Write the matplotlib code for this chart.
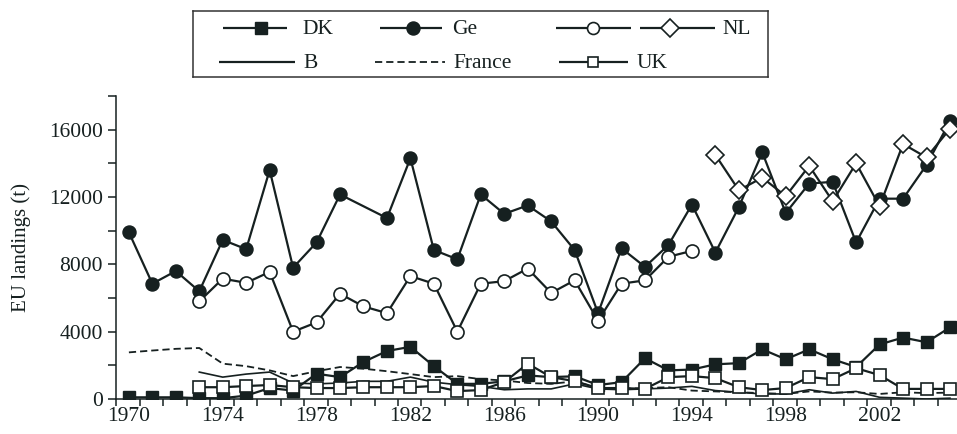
import matplotlib
matplotlib.use("Agg")
import matplotlib.pyplot as plt
import numpy as np

# ---------------- data ----------------
ge_years = [1970, 1971, 1972, 1973, 1974, 1975, 1976, 1977, 1978, 1979, 1981, 1982, 1983, 1984,
            1985, 1986, 1987, 1988, 1989, 1990, 1991, 1992, 1993, 1994, 1995, 1996, 1997, 1998,
            1999, 2000, 2001, 2002, 2003, 2004, 2005]
ge_vals = [9900, 6850, 7600, 6400, 9450, 8900, 13600, 7800, 9300, 12150, 10750, 14300, 8850, 8300,
           12150, 11000, 11500, 10550, 8850, 5100, 8950, 7850, 9150, 11550, 8700, 11400, 14650, 11050,
           12800, 12900, 9300, 11900, 11900, 13900, 16500]

oc_years = list(range(1973, 1995))
oc_vals = [5800, 7150, 6900, 7550, 4000, 4550, 6250, 5500, 5100, 7300, 6850, 4000, 6850, 7000,
           7750, 6300, 7050, 4650, 6850, 7050, 8450, 8800]

nl_years = list(range(1995, 2006))
nl_vals = [14500, 12400, 13150, 12050, 13850, 11750, 14000, 11450, 15150, 14350, 16050]

dk_years = list(range(1970, 2006))
dk_vals = [100, 100, 100, 50, 50, 200, 650, 500, 1500, 1300, 2200, 2850, 3100, 1950, 900, 900,
           1050, 1400, 1300, 1350, 830, 1000, 2420, 1700, 1750, 2060, 2130, 2950, 2360, 2950,
           2360, 1900, 3240, 3650, 3370, 4250]

uk_years = list(range(1973, 2006))
uk_vals = [700, 700, 770, 830, 700, 650, 650, 700, 700, 700, 770, 470, 530, 1000, 2100, 1300,
           1060, 650, 650, 600, 1300, 1360, 1240, 700, 530, 650, 1300, 1180, 1830, 1420, 600,
           600, 600]

fr_years = list(range(1970, 2006))
fr_vals = [2770, 2880, 2980, 3030, 2100, 1950, 1700, 1360, 1650, 1900, 1800, 1650, 1480, 1300,
           1360, 1180, 1100, 950, 900, 1050, 650, 600, 650, 700, 500, 450, 400, 350, 300, 450,
           380, 400, 300, 400, 350, 380]

b_years = list(range(1973, 2006))
b_vals = [1600, 1300, 1480, 1600, 950, 900, 950, 1050, 1050, 1300, 1000, 850, 750, 550, 600,
          600, 900, 600, 550, 600, 650, 750, 500, 400, 300, 300, 550, 350, 450, 100, 50, 0, 50]

y_major = [0, 4000, 8000, 12000, 16000]
y_minor = [2000, 6000, 10000, 14000, 18000]
x_label_years = [1970, 1974, 1978, 1982, 1986, 1990, 1994, 1998, 2002]

# ---------------- style ----------------
ink = "#162020"
serif = ["Liberation Serif", "DejaVu Serif"]
plt.rcParams["font.family"] = serif

W, H = 957, 434
fig = plt.figure(figsize=(W / 100, H / 100), dpi=100)
ax = fig.add_axes([116 / W, 35 / H, (W - 116) / W, 303 / H])

lw = 1.6
ms_c = 9.4
ms_s = 9.0
ms_d = 9.3
mew = 1.2
tfs = 15.5

ax.plot(b_years, b_vals, color=ink, lw=1.2, zorder=2)
ax.plot(fr_years, fr_vals, color=ink, lw=1.3, ls=(0, (4, 2.2)), zorder=2)
ax.plot(dk_years, dk_vals, color=ink, lw=lw, marker="s", ms=ms_s, mfc=ink, mec=ink, zorder=3)
ax.plot(uk_years, uk_vals, color=ink, lw=lw, marker="s", ms=ms_s, mfc="white", mec=ink, mew=mew, zorder=4)
ax.plot(ge_years, ge_vals, color=ink, lw=lw, marker="o", ms=ms_c, mfc=ink, mec=ink, zorder=5)
ax.plot(oc_years, oc_vals, color=ink, lw=lw, marker="o", ms=ms_c, mfc="white", mec=ink, mew=mew, zorder=6)
ax.plot(nl_years, nl_vals, color=ink, lw=lw, marker="D", ms=ms_d, mfc="white", mec=ink, mew=mew, zorder=7)

ax.set_xlim(1969.45, 2005.3)
ax.set_ylim(0, 18000)

for s in ["top", "right"]:
    ax.spines[s].set_visible(False)
for s in ["left", "bottom"]:
    ax.spines[s].set_color(ink)
    ax.spines[s].set_linewidth(1.1)

ax.set_yticks(y_major)
ax.set_yticklabels([str(v) for v in y_major])
ax.set_yticks(y_minor, minor=True)
ax.tick_params(axis="y", which="both", direction="out", length=5.5, width=1.1, color=ink,
               labelsize=tfs, pad=4, labelcolor=ink)

ax.set_xticks(x_label_years)
ax.set_xticklabels([str(v) for v in x_label_years])
ax.set_xticks([y + 0.47 for y in range(1969, 2005)], minor=True)
ax.tick_params(axis="x", which="major", length=0, pad=6, labelsize=tfs, labelcolor=ink)
ax.tick_params(axis="x", which="minor", direction="out", length=5, width=1.1, color=ink)

ax.set_ylabel("EU landings (t)", fontsize=15, color=ink, labelpad=13)

# ---------------- legend (drawn in its own pixel-unit axes) ----------------
lx0, lx1, ly0, ly1 = 193, 768, 11, 77
lax = fig.add_axes([lx0 / W, (H - ly1) / H, (lx1 - lx0) / W, (ly1 - ly0) / H])
lax.set_xlim(lx0, lx1)
lax.set_ylim(ly1, ly0)
lax.set_xticks([])
lax.set_yticks([])
for s in lax.spines.values():
    s.set_color("#333333")
    s.set_linewidth(1.1)

r1, r2 = 28, 62
fs = 15.5

def handle(x0, x1, y, xm=None, **kw):
    ls = kw.pop("ls", "-")
    lax.plot([x0, x1], [y, y], color=ink, lw=lw if ls == "-" else 1.3,
             ls=ls, solid_capstyle="butt")
    if xm is not None:
        lax.plot([xm], [y], color=ink, **kw)

handle(223, 287, r1, 261, marker="s", ms=ms_s, mfc=ink, mec=ink)
lax.text(302, r1 + 1, "DK", fontsize=fs, va="center", ha="left", color=ink)
handle(380, 442, r1, 413, marker="o", ms=ms_c, mfc=ink, mec=ink)
lax.text(452, r1 + 1, "Ge", fontsize=fs, va="center", ha="left", color=ink)
handle(556, 631, r1, 593, marker="o", ms=ms_c - 0.8, mfc="white", mec=ink, mew=mew)
handle(640, 715, r1, 670, marker="D", ms=ms_d, mfc="white", mec=ink, mew=mew)
lax.text(722, r1 + 1, "NL", fontsize=fs, va="center", ha="left", color=ink)

handle(219, 295, r2)
lax.text(303, r2 + 1, "B", fontsize=fs, va="center", ha="left", color=ink)
handle(375, 445, r2, ls=(0, (4, 2.2)))
lax.text(453, r2 + 1, "France", fontsize=fs, va="center", ha="left", color=ink)
handle(559, 628, r2, 593, marker="s", ms=ms_s - 1.5, mfc="white", mec=ink, mew=mew)
lax.text(637, r2 + 1, "UK", fontsize=fs, va="center", ha="left", color=ink)

fig.savefig("out.png", dpi=100)
